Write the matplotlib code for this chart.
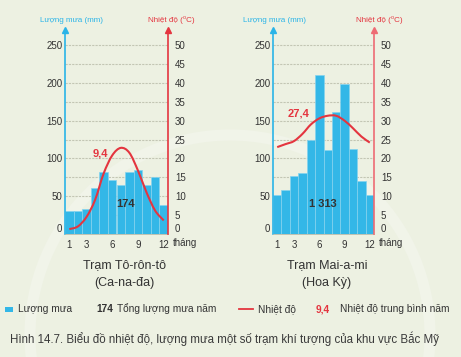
import matplotlib.pyplot as plt
from matplotlib.path import Path
from matplotlib.patches import PathPatch, Rectangle, Circle
from matplotlib.lines import Line2D

months = list(range(1, 13))
month_ticks = [1, 3, 6, 9, 12]

toronto_rain = [30, 30, 33, 61, 82, 71, 65, 82, 85, 65, 76, 39]
toronto_temp = [1.3, 2.0, 4.5, 9.0, 16.0, 20.8, 22.8, 21.5, 16.8, 11.0, 6.2, 3.6]
miami_rain = [52, 58, 77, 81, 125, 210, 111, 162, 199, 113, 70, 52]
miami_temp = [23.0, 23.8, 24.6, 26.5, 29.0, 30.6, 31.3, 31.3, 30.0, 28.0, 25.8, 24.2]

toronto_total = '174'
toronto_mean = '9,4'
miami_total = '1 313'
miami_mean = '27,4'

W, H = 461, 357
BG = '#edf1e2'
BLUE = '#33b7e7'
CYAN = '#2ab4e8'
RED = '#e4353f'
TXT = '#333333'
FONT = 'Liberation Sans'

plt.rcParams['font.family'] = [FONT, 'DejaVu Sans']


def px(x, y):
    return x / W, 1 - y / H


def smooth_path(xs, ys):
    # catmull-rom drawn as bezier segments
    verts = [(xs[0], ys[0])]
    codes = [Path.MOVETO]
    n = len(xs)
    for i in range(n - 1):
        x0, y0 = (xs[i - 1], ys[i - 1]) if i > 0 else (xs[i], ys[i])
        x1, y1 = xs[i], ys[i]
        x2, y2 = xs[i + 1], ys[i + 1]
        x3, y3 = (xs[i + 2], ys[i + 2]) if i + 2 < n else (x2, y2)
        c1 = (x1 + (x2 - x0) / 6, y1 + (y2 - y0) / 6)
        c2 = (x2 - (x3 - x1) / 6, y2 - (y3 - y1) / 6)
        verts += [c1, c2, (x2, y2)]
        codes += [Path.CURVE4] * 3
    return Path(verts, codes)


def draw_station(left, width, rain, temp, total, mean, total_pos, mean_pos, red_axis):
    bottom, top = 234, 30
    x0, y0 = px(left, bottom)
    ax = fig.add_axes([x0, y0, width / W, (bottom - top) / H])
    ax.set_facecolor('none')
    ax.set_xlim(0.5, 12.5)
    ax.set_ylim(0, 270)

    for v in range(25, 251, 25):
        ax.plot([0.5, 12.5], [v, v], color='#c3c6b4', lw=0.8,
                linestyle=(0, (2, 1)), zorder=1)

    ax.bar(months, rain, width=1.0, color=BLUE, edgecolor='#86d3ef',
           linewidth=0.5, zorder=2)

    ax.set_yticks(range(0, 251, 50))
    ax.set_xticks(month_ticks)
    ax.tick_params(axis='y', length=0, pad=2, labelsize=7, labelcolor=TXT)
    ax.tick_params(axis='x', length=0, pad=4, labelsize=7, labelcolor=TXT)
    ax.spines['top'].set_visible(False)
    ax.spines['right'].set_visible(False)
    ax.spines['left'].set_color(CYAN)
    ax.spines['left'].set_linewidth(1.2)
    ax.spines['bottom'].set_color('#b8bbab')
    ax.spines['bottom'].set_linewidth(0.6)
    ax.plot([0.5], [270], marker='^', color=CYAN, markersize=4, clip_on=False, zorder=5)

    ax2 = ax.twinx()
    ax2.set_ylim(0, 54)
    ax2.set_yticks(range(0, 51, 5))
    ax2.tick_params(axis='y', length=0, pad=5, labelsize=7, labelcolor=TXT)
    for s in ['top', 'left', 'bottom']:
        ax2.spines[s].set_visible(False)
    ax2.spines['right'].set_color(red_axis)
    ax2.spines['right'].set_linewidth(1.2)
    ax2.plot([12.5], [54], marker='^', color=red_axis, markersize=4, clip_on=False, zorder=5)

    # the zero labels sit a little above the baseline
    ax.get_yticklabels()[0].set_verticalalignment('bottom')
    ax2.get_yticklabels()[0].set_verticalalignment('bottom')

    ax2.add_patch(PathPatch(smooth_path(months, temp), facecolor='none',
                            edgecolor=RED, lw=1.5, zorder=4))

    ax2.text(mean_pos[0], mean_pos[1], mean, color=RED, fontsize=8,
             fontweight='bold', ha='center', va='center')
    ax.text(total_pos[0], total_pos[1], total, color=TXT, fontsize=8,
            fontweight='bold', ha='center', va='center', zorder=6)

    fig.text(*px(left + width + 5, 243), 'tháng', fontsize=7, color=TXT,
             va='center', ha='left')
    return ax


fig = plt.figure(figsize=(W / 100, H / 100), dpi=100, facecolor=BG)

# faint page decoration ring, kept behind the charts
bg = fig.add_axes([0, 0, 1, 1], zorder=-10)
bg.set_xlim(0, W)
bg.set_ylim(H, 0)
bg.set_aspect('equal')
bg.axis('off')
bg.add_patch(Circle((230, 335), 200, facecolor='none', edgecolor='#f1f4e9', lw=8))

draw_station(65, 103, toronto_rain, toronto_temp, toronto_total, toronto_mean,
             (7.6, 40), (4.6, 21.3), RED)
draw_station(273, 101, miami_rain, miami_temp, miami_total, miami_mean,
             (6.4, 40), (3.5, 32), '#ee6b74')

# axis titles
fig.text(*px(71, 20), 'Lượng mưa (mm)', color=CYAN, fontsize=5.8, ha='center', va='center')
fig.text(*px(171, 20), 'Nhiệt độ (⁰C)', color=RED, fontsize=5.8, ha='center', va='center')
fig.text(*px(274, 20), 'Lượng mưa (mm)', color=CYAN, fontsize=5.8, ha='center', va='center')
fig.text(*px(379, 20), 'Nhiệt độ (⁰C)', color=RED, fontsize=5.8, ha='center', va='center')

# station names
fig.text(*px(124, 265), 'Trạm Tô-rôn-tô', fontsize=9, color=TXT, ha='center', va='center')
fig.text(*px(124, 283), '(Ca-na-đa)', fontsize=9, color=TXT, ha='center', va='center')
fig.text(*px(327, 265), 'Trạm Mai-a-mi', fontsize=9, color=TXT, ha='center', va='center')
fig.text(*px(327, 283), '(Hoa Kỳ)', fontsize=9, color=TXT, ha='center', va='center')

# legend row
ly = 309
fig.patches.append(Rectangle(px(5, ly + 2.5), 8 / W, 5 / H, transform=fig.transFigure,
                             facecolor=BLUE, edgecolor='none'))
fig.text(*px(18, ly), 'Lượng mưa', fontsize=7.3, color=TXT, va='center')
fig.text(*px(96, ly), toronto_total, fontsize=7.3, color=TXT, fontweight='bold', va='center')
fig.text(*px(117, ly), 'Tổng lượng mưa năm', fontsize=7.3, color=TXT, va='center')
fig.lines.append(Line2D([239 / W, 253 / W], [1 - ly / H, 1 - ly / H],
                        transform=fig.transFigure, color=RED, lw=1.3))
fig.text(*px(258, ly), 'Nhiệt độ', fontsize=7.3, color=TXT, va='center')
fig.text(*px(316, ly), toronto_mean, fontsize=7.3, color=RED, fontweight='bold', va='center')
fig.text(*px(340, ly), 'Nhiệt độ trung bình năm', fontsize=7.3, color=TXT, va='center')

# caption
fig.text(*px(10, 339), 'Hình 14.7. Biểu đồ nhiệt độ, lượng mưa một số trạm khí tượng của khu vực Bắc Mỹ',
         fontsize=8.3, color='#3a3a3a', va='center')

fig.savefig('out.png', dpi=100, facecolor=BG)
